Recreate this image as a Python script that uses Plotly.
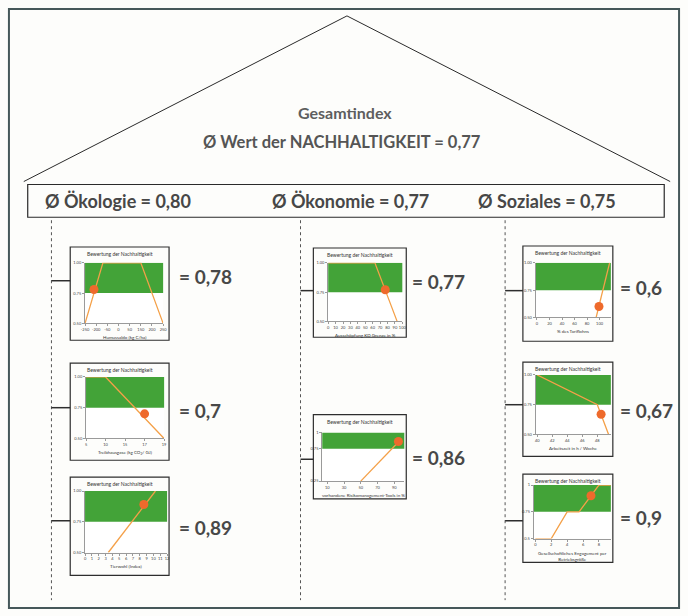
import plotly.graph_objects as go

# ---------------- data ----------------
header_title = "Gesamtindex"
header_value = "Ø Wert der NACHHALTIGKEIT = 0,77"
pillar_labels = ["Ø Ökologie = 0,80", "Ø Ökonomie = 0,77", "Ø Soziales = 0,75"]

chart_keys = ["humus", "thg", "tierwohl", "kd", "risiko", "tarif", "arbeitszeit", "engagement"]
chart_title = "Bewertung der Nachhaltigkeit"

x_titles = {
    "humus": "Humussaldo (kg C/ha)",
    "thg": "Treibhausgase (kg CO<sub>2</sub>/ GJ)",
    "tierwohl": "Tierwohl (Index)",
    "kd": "Ausschöpfung KD Grenze in %",
    "risiko": "vorhandene Risikomanagement-Tools in %",
    "tarif": "% des Tariflohns",
    "arbeitszeit": "Arbeitszeit in h / Woche",
    "engagement": "Gesellschaftliches Engagement per<br>Betriebsgröße",
}

x_tickvals = {
    "humus": [0, 1, 2, 3, 4, 5, 6, 7],
    "thg": [0, 1, 2, 3, 4],
    "tierwohl": [0, 1, 2, 3, 4, 5, 6, 7, 8, 9, 10, 11, 12],
    "kd": [0, 10, 20, 30, 40, 50, 60, 70, 80, 90, 100],
    "risiko": [10, 30, 50, 70, 90],
    "tarif": [0, 20, 40, 60, 80, 100],
    "arbeitszeit": [40, 42, 44, 46, 48],
    "engagement": [0, 2, 4, 6, 8],
}
x_ticktext = {
    "humus": ["-250", "-200", "-50", "0", "50", "150", "200", "250"],
    "thg": ["5", "10", "15", "17", "19"],
    "tierwohl": [str(v) for v in range(13)],
    "kd": [str(v) for v in range(0, 101, 10)],
    "risiko": ["10", "30", "50", "70", "90"],
    "tarif": ["0", "20", "40", "60", "80", "100"],
    "arbeitszeit": ["40", "42", "44", "46", "48"],
    "engagement": ["0", "2", "4", "6", "8"],
}
x_ranges = {
    "humus": [0, 7],
    "thg": [0, 4],
    "tierwohl": [0, 12],
    "kd": [0, 100],
    "risiko": [4, 102],
    "tarif": [-2, 118],
    "arbeitszeit": [39.8, 49.8],
    "engagement": [-0.2, 9.5],
}
y_tickvals = {
    "risiko": [0.25, 0.75, 1.0],
}
y_ticktext = {
    "humus": ["0.50", "0.75", "1.00"],
    "thg": ["0.50", "0.75", "1.00"],
    "tierwohl": ["0.50", "0.75", "1.00"],
    "kd": ["0.50", "0.75", "1.00"],
    "risiko": ["0.25", "0.75", "1"],
    "tarif": ["0.50", "0.75", "1.00"],
    "arbeitszeit": ["0.50", "0.75", "1.00"],
    "engagement": ["0.5", "0.75", "1"],
}
y_ranges = {"risiko": [0.25, 1.0]}

curve_x = {
    "humus": [0, 1.6, 5.0, 7],
    "thg": [0, 1.0, 4],
    "tierwohl": [3.4, 10.3],
    "kd": [0, 63, 93],
    "risiko": [50, 97],
    "tarif": [94.5, 116],
    "arbeitszeit": [40, 48, 49.5],
    "engagement": [0, 2, 4, 5.5, 8, 9.5],
}
curve_y = {
    "humus": [0.5, 1.0, 1.0, 0.5],
    "thg": [1.0, 1.0, 0.5],
    "tierwohl": [0.5, 1.0],
    "kd": [1.0, 1.0, 0.5],
    "risiko": [0.25, 0.88],
    "tarif": [0.5, 1.0],
    "arbeitszeit": [1.0, 0.75, 0.5],
    "engagement": [0.5, 0.5, 0.75, 0.75, 1.0, 1.0],
}
point_x = {"humus": 0.8, "thg": 3.0, "tierwohl": 8.6, "kd": 77, "risiko": 95,
           "tarif": 99, "arbeitszeit": 48.5, "engagement": 7.0}
point_y = {"humus": 0.78, "thg": 0.70, "tierwohl": 0.89, "kd": 0.77, "risiko": 0.86,
           "tarif": 0.60, "arbeitszeit": 0.67, "engagement": 0.90}
value_labels = {"humus": "= 0,78", "thg": "= 0,7", "tierwohl": "= 0,89", "kd": "= 0,77",
                "risiko": "= 0,86", "tarif": "= 0,6", "arbeitszeit": "= 0,67", "engagement": "= 0,9"}

# ---------------- layout (pixels) ----------------
W, H = 688, 616
FONT = "Lato"
GREEN = "#43A338"
LINE_ORANGE = "#F4A048"
DOT = "#EE6A2C"

# frame box (x0, y0, x1, y1), plot area (x0, y0, x1, y1), connector y, value label (x, y)
geom = {
    "humus":       dict(frame=(67, 246, 167, 340), plot=(82, 262, 161, 323), conn=280, val=(175, 276)),
    "thg":         dict(frame=(67, 363, 167, 461), plot=(83, 377, 162, 439), conn=408, val=(175, 411)),
    "tierwohl":    dict(frame=(67, 478, 167, 577), plot=(82, 492, 165, 554), conn=522, val=(175, 529)),
    "kd":          dict(frame=(313, 247, 407, 337), plot=(328, 262, 403, 321), conn=290, val=(411, 281)),
    "risiko":      dict(frame=(313, 415, 407, 500), plot=(322, 433, 405, 482), conn=460, val=(411, 458)),
    "tarif":       dict(frame=(525, 245, 616, 341), plot=(538, 262, 614, 317), conn=290, val=(621, 287)),
    "arbeitszeit": dict(frame=(525, 362, 616, 457), plot=(538, 375, 614, 435), conn=405, val=(621, 411)),
    "engagement":  dict(frame=(525, 475, 616, 564), plot=(536, 486, 614, 540), conn=522, val=(621, 519)),
}
column_x = {"humus": 48, "thg": 48, "tierwohl": 48, "kd": 300, "risiko": 300,
            "tarif": 507, "arbeitszeit": 507, "engagement": 507}


def fx(x):
    return x / W


def fy(y):
    return 1 - y / H


def text_at(x, y, text, size, color, xanchor="center", yanchor="middle"):
    return dict(xref="paper", yref="paper", x=fx(x), y=fy(y), text=text, showarrow=False,
                xanchor=xanchor, yanchor=yanchor, font=dict(family=FONT, size=size, color=color))


fig = go.Figure()
shapes = []
annotations = []
layout_axes = {}

# outer frame
shapes.append(dict(type="rect", xref="paper", yref="paper", x0=fx(5), y0=fy(610), x1=fx(683), y1=fy(6),
                   line=dict(color="#46585A", width=2), fillcolor="rgba(0,0,0,0)"))
# roof
shapes.append(dict(type="path", xref="paper", yref="paper",
                   path=f"M {fx(20)} {fy(180)} L {fx(347)} {fy(13)} L {fx(674)} {fy(180)}",
                   line=dict(color="#2A2A2A", width=1)))
# pillar box
shapes.append(dict(type="rect", xref="paper", yref="paper", x0=fx(24), y0=fy(216), x1=fx(668), y1=fy(183),
                   line=dict(color="#2A2A2A", width=1.2), fillcolor="rgba(0,0,0,0)"))
# dashed column lines
for cx in [48, 300, 507]:
    shapes.append(dict(type="line", xref="paper", yref="paper", x0=fx(cx), x1=fx(cx), y0=fy(219), y1=fy(602),
                       line=dict(color="#555555", width=1, dash="dot")))

annotations.append(text_at(345, 110, f"<b>{header_title}</b>", 16, "#5E5E5E"))
annotations.append(text_at(342, 140, f"<b>{header_value}</b>", 16.5, "#555555"))
for lab, cx in zip(pillar_labels, [115, 351, 549]):
    annotations.append(text_at(cx, 200, f"<b>{lab}</b>", 18, "#474747"))

for i, key in enumerate(chart_keys, 1):
    g = geom[key]
    suffix = "" if i == 1 else str(i)
    xa, ya = "x" + suffix, "y" + suffix
    px0, py0, px1, py1 = g["plot"]
    yr = y_ranges.get(key, [0.5, 1.0])
    ytv = y_tickvals.get(key, [0.5, 0.75, 1.0])

    layout_axes["xaxis" + suffix] = dict(
        domain=[fx(px0), fx(px1)], anchor=ya, range=x_ranges[key],
        tickvals=x_tickvals[key], ticktext=x_ticktext[key], showgrid=False, zeroline=False,
        showline=True, linecolor="#9A9A9A", linewidth=1, ticks="outside", ticklen=2,
        tickcolor="#9A9A9A", tickfont=dict(family=FONT, size=4, color="#444444"), tickangle=0)
    layout_axes["yaxis" + suffix] = dict(
        domain=[fy(py1), fy(py0)], anchor=xa, range=yr,
        tickvals=ytv, ticktext=y_ticktext[key], showgrid=False, zeroline=False,
        showline=True, linecolor="#9A9A9A", linewidth=1, ticks="outside", ticklen=2,
        tickcolor="#9A9A9A", tickfont=dict(family=FONT, size=4, color="#444444"))

    # green "sustainable" band
    shapes.append(dict(type="rect", xref=xa + " domain", yref=ya, x0=0, x1=1, y0=0.75, y1=1.0,
                       fillcolor=GREEN, line=dict(width=0), layer="below"))

    fig.add_trace(go.Scatter(x=curve_x[key], y=curve_y[key], xaxis=xa, yaxis=ya, mode="lines",
                             line=dict(color=LINE_ORANGE, width=1.3), hoverinfo="skip"))
    fig.add_trace(go.Scatter(x=[point_x[key]], y=[point_y[key]], xaxis=xa, yaxis=ya, mode="markers",
                             marker=dict(color=DOT, size=9, line=dict(width=0)), cliponaxis=False))

    fx0, fy0, fx1, fy1 = g["frame"]
    shapes.append(dict(type="rect", xref="paper", yref="paper", x0=fx(fx0), y0=fy(fy1), x1=fx(fx1), y1=fy(fy0),
                       line=dict(color="#2E2E2E", width=1.2), fillcolor="rgba(0,0,0,0)"))
    # connector from column line to frame
    shapes.append(dict(type="line", xref="paper", yref="paper", x0=fx(column_x[key]), x1=fx(fx0),
                       y0=fy(g["conn"]), y1=fy(g["conn"]), line=dict(color="#2E2E2E", width=1.5)))

    annotations.append(text_at((fx0 + fx1) / 2, fy0 + 7, chart_title, 5, "#333333"))
    annotations.append(text_at((px0 + px1) / 2, py1 + 10, x_titles[key], 4.5, "#333333", yanchor="top"))
    vx, vy = g["val"]
    annotations.append(text_at(vx, vy, f"<b>{value_labels[key]}</b>", 19, "#484848", xanchor="left"))

fig.update_layout(width=W, height=H, margin=dict(l=0, r=0, t=0, b=0), paper_bgcolor="#FDFDFB",
                  plot_bgcolor="white", showlegend=False, shapes=shapes, annotations=annotations,
                  **layout_axes)

fig.write_html("out.html")
